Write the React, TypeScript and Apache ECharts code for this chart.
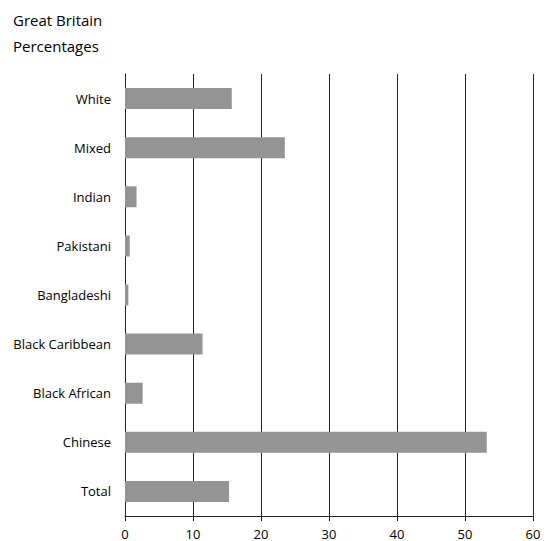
import React, { useEffect, useRef } from "react";
import * as echarts from "echarts";

const categories = ["White", "Mixed", "Indian", "Pakistani", "Bangladeshi", "Black Caribbean", "Black African", "Chinese", "Total"];
const values = [15.7, 23.5, 1.7, 0.7, 0.5, 11.4, 2.6, 53.2, 15.3];
const titleLines = ["Great Britain", "Percentages"];

const FONT = "'Open Sans', 'Noto Sans', sans-serif";

export default function App() {
  const ref = useRef<HTMLDivElement>(null);
  useEffect(() => {
    const chart = echarts.init(ref.current!, undefined, { renderer: "svg" });
    chart.setOption({
      animation: false,
      backgroundColor: "#ffffff",
      graphic: [
        { type: "text", left: 13, top: 12, style: { text: titleLines[0], font: `15px ${FONT}`, fill: "#000" } },
        { type: "text", left: 13, top: 38, style: { text: titleLines[1], font: `15px ${FONT}`, fill: "#000" } },
      ],
      grid: { left: 125, right: 22, top: 74, bottom: 25, containLabel: false },
      xAxis: {
        type: "value",
        min: 0,
        max: 60,
        interval: 10,
        axisLine: { show: true, lineStyle: { color: "#222", width: 1 } },
        axisTick: { show: true, length: 5, lineStyle: { color: "#222" } },
        axisLabel: { color: "#000", fontFamily: FONT, fontSize: 13, margin: 11 },
        splitLine: { show: true, lineStyle: { color: "#222", width: 1 } },
      },
      yAxis: {
        type: "category",
        data: categories,
        inverse: true,
        axisLine: { show: true, lineStyle: { color: "#222", width: 1 } },
        axisTick: { show: false },
        axisLabel: { color: "#000", fontFamily: FONT, fontSize: 13, margin: 14 },
        splitLine: { show: false },
      },
      series: [
        {
          type: "bar",
          data: values,
          barWidth: 21,
          itemStyle: { color: "#949494" },
        },
      ],
    });
    return () => chart.dispose();
  }, []);
  return <div ref={ref} style={{ width: 555, height: 541, position: "absolute", left: 0, top: 0 }} />;
}
